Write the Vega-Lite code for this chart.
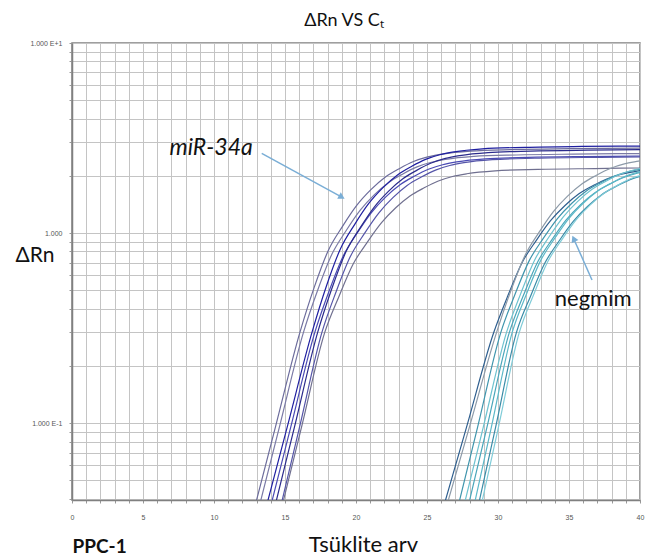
{
  "$schema": "https://vega.github.io/schema/vega-lite/v6.json",
  "width": 568,
  "height": 457,
  "autosize": {"type": "none"},
  "padding": {"left": 72, "top": 43, "right": 9, "bottom": 55},
  "background": "white",
  "config": {"view": {"stroke": "#808080", "strokeWidth": 1.5}, "font": "Lato"},
  "title": {"text": "ΔRn VS Cₜ", "font": "Lato", "fontSize": 18, "fontWeight": "normal", "color": "#111", "anchor": "middle", "baseline": "alphabetic", "offset": 18, "dx": -12, "dy": 23},
  "datasets": {
    "curves": [
      {"curve":"m1","cycle":12.59,"value":0.03},{"curve":"m1","cycle":14.32,"value":0.095},{"curve":"m1","cycle":16.05,"value":0.3},{"curve":"m1","cycle":17.05,"value":0.516},{"curve":"m1","cycle":18.05,"value":0.81},{"curve":"m1","cycle":19.05,"value":1.084},{"curve":"m1","cycle":20.05,"value":1.398},{"curve":"m1","cycle":21.05,"value":1.692},{"curve":"m1","cycle":22.05,"value":1.966},{"curve":"m1","cycle":23.05,"value":2.182},{"curve":"m1","cycle":24.05,"value":2.378},{"curve":"m1","cycle":25.05,"value":2.515},{"curve":"m1","cycle":26.05,"value":2.603},{"curve":"m1","cycle":28.05,"value":2.701},{"curve":"m1","cycle":31.05,"value":2.75},{"curve":"m1","cycle":35.05,"value":2.779},{"curve":"m1","cycle":40,"value":2.8},
      {"curve":"m2","cycle":12.9,"value":0.03},{"curve":"m2","cycle":14.6,"value":0.095},{"curve":"m2","cycle":16.3,"value":0.3},{"curve":"m2","cycle":17.3,"value":0.5},{"curve":"m2","cycle":18.3,"value":0.773},{"curve":"m2","cycle":19.3,"value":1.028},{"curve":"m2","cycle":20.3,"value":1.319},{"curve":"m2","cycle":21.3,"value":1.592},{"curve":"m2","cycle":22.3,"value":1.847},{"curve":"m2","cycle":23.3,"value":2.047},{"curve":"m2","cycle":24.3,"value":2.229},{"curve":"m2","cycle":25.3,"value":2.357},{"curve":"m2","cycle":26.3,"value":2.439},{"curve":"m2","cycle":28.3,"value":2.53},{"curve":"m2","cycle":31.3,"value":2.575},{"curve":"m2","cycle":35.3,"value":2.602},{"curve":"m2","cycle":40,"value":2.62},
      {"curve":"m3","cycle":13.39,"value":0.03},{"curve":"m3","cycle":15.15,"value":0.095},{"curve":"m3","cycle":16.9,"value":0.3},{"curve":"m3","cycle":17.9,"value":0.522},{"curve":"m3","cycle":18.9,"value":0.825},{"curve":"m3","cycle":19.9,"value":1.108},{"curve":"m3","cycle":20.9,"value":1.431},{"curve":"m3","cycle":21.9,"value":1.734},{"curve":"m3","cycle":22.9,"value":2.017},{"curve":"m3","cycle":23.9,"value":2.239},{"curve":"m3","cycle":24.9,"value":2.441},{"curve":"m3","cycle":25.9,"value":2.583},{"curve":"m3","cycle":26.9,"value":2.674},{"curve":"m3","cycle":28.9,"value":2.775},{"curve":"m3","cycle":31.9,"value":2.825},{"curve":"m3","cycle":35.9,"value":2.855},{"curve":"m3","cycle":40,"value":2.87},
      {"curve":"m4","cycle":13.7,"value":0.03},{"curve":"m4","cycle":15.4,"value":0.095},{"curve":"m4","cycle":17.1,"value":0.3},{"curve":"m4","cycle":18.1,"value":0.494},{"curve":"m4","cycle":19.1,"value":0.758},{"curve":"m4","cycle":20.1,"value":1.004},{"curve":"m4","cycle":21.1,"value":1.286},{"curve":"m4","cycle":22.1,"value":1.55},{"curve":"m4","cycle":23.1,"value":1.796},{"curve":"m4","cycle":24.1,"value":1.99},{"curve":"m4","cycle":25.1,"value":2.166},{"curve":"m4","cycle":26.1,"value":2.289},{"curve":"m4","cycle":27.1,"value":2.368},{"curve":"m4","cycle":29.1,"value":2.456},{"curve":"m4","cycle":32.1,"value":2.5},{"curve":"m4","cycle":36.1,"value":2.526},{"curve":"m4","cycle":40,"value":2.54},
      {"curve":"m5","cycle":14.01,"value":0.03},{"curve":"m5","cycle":15.66,"value":0.095},{"curve":"m5","cycle":17.3,"value":0.3},{"curve":"m5","cycle":18.3,"value":0.511},{"curve":"m5","cycle":19.3,"value":0.799},{"curve":"m5","cycle":20.3,"value":1.068},{"curve":"m5","cycle":21.3,"value":1.375},{"curve":"m5","cycle":22.3,"value":1.663},{"curve":"m5","cycle":23.3,"value":1.932},{"curve":"m5","cycle":24.3,"value":2.143},{"curve":"m5","cycle":25.3,"value":2.335},{"curve":"m5","cycle":26.3,"value":2.47},{"curve":"m5","cycle":27.3,"value":2.556},{"curve":"m5","cycle":29.3,"value":2.652},{"curve":"m5","cycle":32.3,"value":2.7},{"curve":"m5","cycle":36.3,"value":2.729},{"curve":"m5","cycle":40,"value":2.745},
      {"curve":"m6","cycle":14.43,"value":0.03},{"curve":"m6","cycle":16.02,"value":0.095},{"curve":"m6","cycle":17.6,"value":0.3},{"curve":"m6","cycle":18.6,"value":0.491},{"curve":"m6","cycle":19.6,"value":0.752},{"curve":"m6","cycle":20.6,"value":0.996},{"curve":"m6","cycle":21.6,"value":1.274},{"curve":"m6","cycle":22.6,"value":1.535},{"curve":"m6","cycle":23.6,"value":1.779},{"curve":"m6","cycle":24.6,"value":1.97},{"curve":"m6","cycle":25.6,"value":2.144},{"curve":"m6","cycle":26.6,"value":2.266},{"curve":"m6","cycle":27.6,"value":2.345},{"curve":"m6","cycle":29.6,"value":2.432},{"curve":"m6","cycle":32.6,"value":2.475},{"curve":"m6","cycle":36.6,"value":2.501},{"curve":"m6","cycle":40,"value":2.513},
      {"curve":"m7","cycle":14.51,"value":0.03},{"curve":"m7","cycle":16.16,"value":0.095},{"curve":"m7","cycle":17.8,"value":0.3},{"curve":"m7","cycle":18.8,"value":0.464},{"curve":"m7","cycle":19.8,"value":0.687},{"curve":"m7","cycle":20.8,"value":0.896},{"curve":"m7","cycle":21.8,"value":1.134},{"curve":"m7","cycle":22.8,"value":1.358},{"curve":"m7","cycle":23.8,"value":1.567},{"curve":"m7","cycle":24.8,"value":1.73},{"curve":"m7","cycle":25.8,"value":1.879},{"curve":"m7","cycle":26.8,"value":1.984},{"curve":"m7","cycle":27.8,"value":2.051},{"curve":"m7","cycle":29.8,"value":2.125},{"curve":"m7","cycle":32.8,"value":2.163},{"curve":"m7","cycle":36.8,"value":2.185},{"curve":"m7","cycle":40,"value":2.2},
      {"curve":"n1","cycle":25.85,"value":0.03},{"curve":"n1","cycle":27.78,"value":0.095},{"curve":"n1","cycle":29.7,"value":0.3},{"curve":"n1","cycle":30.7,"value":0.469},{"curve":"n1","cycle":31.7,"value":0.7},{"curve":"n1","cycle":32.7,"value":0.916},{"curve":"n1","cycle":33.7,"value":1.162},{"curve":"n1","cycle":34.7,"value":1.393},{"curve":"n1","cycle":35.7,"value":1.609},{"curve":"n1","cycle":36.7,"value":1.778},{"curve":"n1","cycle":37.7,"value":1.932},{"curve":"n1","cycle":38.7,"value":2.04},{"curve":"n1","cycle":39.7,"value":2.11},{"curve":"n1","cycle":40,"value":2.133},
      {"curve":"n2","cycle":26.05,"value":0.03},{"curve":"n2","cycle":27.98,"value":0.095},{"curve":"n2","cycle":29.9,"value":0.3},{"curve":"n2","cycle":30.9,"value":0.496},{"curve":"n2","cycle":31.9,"value":0.763},{"curve":"n2","cycle":32.9,"value":1.012},{"curve":"n2","cycle":33.9,"value":1.297},{"curve":"n2","cycle":34.9,"value":1.564},{"curve":"n2","cycle":35.9,"value":1.813},{"curve":"n2","cycle":36.9,"value":2.009},{"curve":"n2","cycle":37.9,"value":2.187},{"curve":"n2","cycle":38.9,"value":2.311},{"curve":"n2","cycle":39.9,"value":2.392},{"curve":"n2","cycle":40,"value":2.4},
      {"curve":"n3","cycle":26.91,"value":0.03},{"curve":"n3","cycle":28.56,"value":0.095},{"curve":"n3","cycle":30.2,"value":0.3},{"curve":"n3","cycle":31.2,"value":0.476},{"curve":"n3","cycle":32.2,"value":0.716},{"curve":"n3","cycle":33.2,"value":0.94},{"curve":"n3","cycle":34.2,"value":1.196},{"curve":"n3","cycle":35.2,"value":1.436},{"curve":"n3","cycle":36.2,"value":1.66},{"curve":"n3","cycle":37.2,"value":1.836},{"curve":"n3","cycle":38.2,"value":1.996},{"curve":"n3","cycle":39.2,"value":2.108},{"curve":"n3","cycle":40,"value":2.164},
      {"curve":"n4","cycle":27.31,"value":0.03},{"curve":"n4","cycle":28.96,"value":0.095},{"curve":"n4","cycle":30.6,"value":0.3},{"curve":"n4","cycle":31.6,"value":0.48},{"curve":"n4","cycle":32.6,"value":0.726},{"curve":"n4","cycle":33.6,"value":0.956},{"curve":"n4","cycle":34.6,"value":1.218},{"curve":"n4","cycle":35.6,"value":1.464},{"curve":"n4","cycle":36.6,"value":1.694},{"curve":"n4","cycle":37.6,"value":1.874},{"curve":"n4","cycle":38.6,"value":2.038},{"curve":"n4","cycle":39.6,"value":2.153},{"curve":"n4","cycle":40,"value":2.186},
      {"curve":"n5","cycle":27.63,"value":0.03},{"curve":"n5","cycle":29.22,"value":0.095},{"curve":"n5","cycle":30.8,"value":0.3},{"curve":"n5","cycle":31.8,"value":0.472},{"curve":"n5","cycle":32.8,"value":0.706},{"curve":"n5","cycle":33.8,"value":0.924},{"curve":"n5","cycle":34.8,"value":1.174},{"curve":"n5","cycle":35.8,"value":1.408},{"curve":"n5","cycle":36.8,"value":1.626},{"curve":"n5","cycle":37.8,"value":1.798},{"curve":"n5","cycle":38.8,"value":1.954},{"curve":"n5","cycle":39.8,"value":2.063},{"curve":"n5","cycle":40,"value":2.078},
      {"curve":"n6","cycle":28.05,"value":0.03},{"curve":"n6","cycle":29.53,"value":0.095},{"curve":"n6","cycle":31.0,"value":0.3},{"curve":"n6","cycle":32,"value":0.476},{"curve":"n6","cycle":33,"value":0.716},{"curve":"n6","cycle":34,"value":0.94},{"curve":"n6","cycle":35,"value":1.196},{"curve":"n6","cycle":36,"value":1.436},{"curve":"n6","cycle":37,"value":1.66},{"curve":"n6","cycle":38,"value":1.836},{"curve":"n6","cycle":39,"value":1.996},{"curve":"n6","cycle":40,"value":2.108},
      {"curve":"n7","cycle":28.35,"value":0.03},{"curve":"n7","cycle":29.83,"value":0.095},{"curve":"n7","cycle":31.3,"value":0.3},{"curve":"n7","cycle":32.3,"value":0.467},{"curve":"n7","cycle":33.3,"value":0.695},{"curve":"n7","cycle":34.3,"value":0.908},{"curve":"n7","cycle":35.3,"value":1.151},{"curve":"n7","cycle":36.3,"value":1.379},{"curve":"n7","cycle":37.3,"value":1.592},{"curve":"n7","cycle":38.3,"value":1.759},{"curve":"n7","cycle":39.3,"value":1.911},{"curve":"n7","cycle":40,"value":1.987},
      {"curve":"n8","cycle":28.55,"value":0.03},{"curve":"n8","cycle":30.03,"value":0.095},{"curve":"n8","cycle":31.5,"value":0.3},{"curve":"n8","cycle":32.5,"value":0.472},{"curve":"n8","cycle":33.5,"value":0.706},{"curve":"n8","cycle":34.5,"value":0.924},{"curve":"n8","cycle":35.5,"value":1.174},{"curve":"n8","cycle":36.5,"value":1.408},{"curve":"n8","cycle":37.5,"value":1.626},{"curve":"n8","cycle":38.5,"value":1.798},{"curve":"n8","cycle":39.5,"value":1.954},{"curve":"n8","cycle":40,"value":2.008}
    ],
    "labels": [
      {"label": "miR-34a", "cycle": 9.8, "value": 2.57},
      {"label": "negmim", "cycle": 36.7, "value": 0.413}
    ],
    "arrows": [
      {"arrow": "a1", "cycle": 13.36, "value": 2.628, "cycle2": 19.0, "value2": 1.546},
      {"arrow": "a2", "cycle": 36.62, "value": 0.566, "cycle2": 35.33, "value2": 0.934}
    ]
  },
  "layer": [
    {
      "data": {"name": "curves"},
      "mark": {"type": "line", "strokeWidth": 1.2, "clip": true, "interpolate": "monotone"},
      "encoding": {
        "x": {
          "field": "cycle", "type": "quantitative",
          "scale": {"domain": [0, 40], "nice": false, "zero": false},
          "axis": {
            "values": [0,1,2,3,4,5,6,7,8,9,10,11,12,13,14,15,16,17,18,19,20,21,22,23,24,25,26,27,28,29,30,31,32,33,34,35,36,37,38,39,40],
            "labelExpr": "datum.value % 5 === 0 ? datum.label : ''",
            "grid": true, "gridColor": "#c4c4c4", "gridWidth": 1,
            "tickSize": 3, "tickColor": "#999999",
            "domainColor": "#808080", "domainWidth": 1.5,
            "labelFont": "Liberation Sans", "labelFontSize": 7, "labelColor": "#555555",
            "labelPadding": 10, "labelFlush": false, "labelOverlap": false,
            "title": "Tsüklite arv", "titleFont": "Lato", "titleFontSize": 22, "titleFontWeight": "normal",
            "titleColor": "#111111", "titleX": 291, "titleY": 51, "titleBaseline": "alphabetic"
          }
        },
        "y": {
          "field": "value", "type": "quantitative",
          "scale": {"type": "log", "domain": [0.0394, 10], "nice": false},
          "axis": {
            "values": [0.04,0.05,0.06,0.07,0.08,0.09,0.1,0.2,0.3,0.4,0.5,0.6,0.7,0.8,0.9,1,2,3,4,5,6,7,8,9,10],
            "labelExpr": "datum.value == 10 ? '1.000 E+1' : datum.value == 1 ? '1.000' : datum.value == 0.1 ? '1.000 E-1' : ''",
            "grid": true, "gridColor": "#c4c4c4", "gridWidth": 1,
            "tickSize": 3, "tickColor": "#999999",
            "domainColor": "#808080", "domainWidth": 1.5,
            "labelFont": "Liberation Sans", "labelFontSize": 7, "labelColor": "#555555",
            "labelPadding": 7, "labelOverlap": false,
            "title": "ΔRn", "titleFont": "Lato", "titleFontSize": 21, "titleFontWeight": "normal",
            "titleColor": "#111111", "titleAngle": 0, "titleX": -57, "titleY": 212,
            "titleAlign": "left", "titleBaseline": "middle"
          }
        },
        "color": {
          "field": "curve", "type": "nominal", "legend": null,
          "scale": {
            "domain": ["m1","m2","m3","m4","m5","m6","m7","n1","n2","n3","n4","n5","n6","n7","n8"],
            "range": ["#6c6c9c","#7a7aa6","#1f1fa0","#4a4ab4","#2b2b8c","#5555a8","#707090","#2f5f8f","#8c9aa8","#3f95ad","#6ec2cf","#4aa6ba","#5cb8c8","#3a8ca8","#80ccd8"]
          }
        }
      }
    },
    {
      "mark": {"type": "rule", "color": "#34b33f", "strokeWidth": 3},
      "encoding": {"y": {"datum": 0.3, "type": "quantitative"}}
    },
    {
      "data": {"name": "arrows"},
      "mark": {"type": "rule", "color": "#7aaed6", "strokeWidth": 1.5},
      "encoding": {
        "x": {"field": "cycle", "type": "quantitative", "axis": {"orient": "bottom", "labels": false, "ticks": false, "domain": false, "grid": false, "title": "PPC-1", "titleFont": "Lato", "titleFontSize": 19, "titleFontWeight": "bold", "titleColor": "#111111", "titleAlign": "left", "titleX": 0, "titleY": 52, "titleBaseline": "alphabetic"}},
        "y": {"field": "value", "type": "quantitative"},
        "x2": {"field": "cycle2"},
        "y2": {"field": "value2"}
      }
    },
    {
      "data": {"name": "arrows"},
      "mark": {"type": "point", "shape": "triangle-right", "filled": true, "size": 55, "opacity": 1, "color": "#7aaed6"},
      "encoding": {
        "x": {"field": "cycle2", "type": "quantitative", "axis": null},
        "y": {"field": "value2", "type": "quantitative"},
        "angle": {"condition": {"test": "datum.arrow === 'a1'", "value": 29}, "value": 246}
      }
    },
    {
      "data": {"name": "labels"},
      "transform": [{"filter": "datum.label === 'miR-34a'"}],
      "mark": {"type": "text", "font": "Lato", "fontSize": 23, "fontStyle": "italic", "color": "#111111", "align": "center", "baseline": "alphabetic"},
      "encoding": {
        "x": {"field": "cycle", "type": "quantitative", "axis": null},
        "y": {"field": "value", "type": "quantitative"},
        "text": {"field": "label"}
      }
    },
    {
      "data": {"name": "labels"},
      "transform": [{"filter": "datum.label === 'negmim'"}],
      "mark": {"type": "text", "font": "Lato", "fontSize": 22, "color": "#111111", "align": "center", "baseline": "alphabetic"},
      "encoding": {
        "x": {"field": "cycle", "type": "quantitative", "axis": null},
        "y": {"field": "value", "type": "quantitative"},
        "text": {"field": "label"}
      }
    }
  ],
  "resolve": {"axis": {"x": "independent"}}
}
